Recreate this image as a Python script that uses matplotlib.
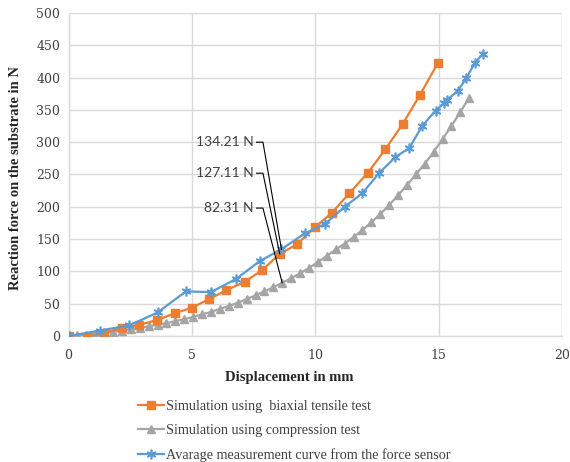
import matplotlib
matplotlib.use("Agg")
import matplotlib.pyplot as plt
from matplotlib.lines import Line2D

# Simulation using biaxial tensile test
biaxial_x = [0.0, 0.75, 1.45, 2.15, 2.85, 3.6, 4.3, 5.0, 5.7, 6.4, 7.15, 7.85,
             8.56, 9.26, 9.98, 10.68, 11.38, 12.14, 12.84, 13.54, 14.24, 14.96]
biaxial_y = [0, -2, 5, 12, 17, 25, 35, 44, 57, 71, 84, 102,
             127.11, 142, 168, 191, 221, 253, 289, 328, 373, 422]

# Simulation using compression test
compression_x = [0.0, 0.36, 0.72, 1.08, 1.44, 1.81, 2.17, 2.53, 2.89, 3.25,
                 3.61, 3.97, 4.33, 4.69, 5.05, 5.42, 5.78, 6.14, 6.5, 6.86,
                 7.22, 7.58, 7.94, 8.3, 8.66, 9.02, 9.38, 9.75, 10.11, 10.47,
                 10.83, 11.19, 11.55, 11.91, 12.27, 12.64, 13.0, 13.36, 13.72,
                 14.08, 14.44, 14.8, 15.16, 15.52, 15.88, 16.24]
compression_y = [0, 1, 2, 3.5, 5, 6.5, 8.5, 10.5, 12.5, 15,
                 17.5, 20, 23, 26, 29.5, 33.5, 37.5, 42, 46.5, 51.5,
                 57, 63, 69, 75.5, 82.31, 89.5, 97, 105.5, 114.5, 124,
                 134, 143, 153, 164, 176, 189, 203, 218, 234,
                 250, 267, 285, 305, 325, 347, 369]

# Average measurement curve from the force sensor
sensor_x = [0.0, 1.28, 2.47, 3.61, 4.76, 5.77, 6.78, 7.75, 8.63, 9.58, 10.38,
            11.19, 11.91, 12.58, 13.25, 13.81, 14.33, 14.88, 15.2, 15.33,
            15.79, 16.12, 16.47, 16.8]
sensor_y = [0, 8.5, 16.5, 36.5, 69, 68, 88, 116, 134.21, 159, 173,
            200, 221, 252, 277, 291, 325, 349, 360, 365,
            380, 399, 423, 437]

x_ticks = [0, 5, 10, 15, 20]
y_ticks = [0, 50, 100, 150, 200, 250, 300, 350, 400, 450, 500]

labels = ["Simulation using  biaxial tensile test",
          "Simulation using compression test",
          "Avarage measurement curve from the force sensor"]

ORANGE = "#ED7D31"
GRAY = "#A5A5A5"
BLUE = "#5B9BD5"
GRID = "#D9D9D9"
TEXT = "#404040"

plt.rcParams["font.family"] = ["DejaVu Serif"]
LABEL_FONT = ["Liberation Serif", "DejaVu Serif"]

fig = plt.figure(figsize=(5.70, 4.62), dpi=100)
ax = fig.add_axes([0.1202, 0.2727, 0.8658, 0.6992])

ax.plot(compression_x, compression_y, color=GRAY, lw=1.6, marker="^",
        markersize=5.5, zorder=3)
ax.plot(biaxial_x, biaxial_y, color=ORANGE, lw=1.6, marker="s",
        markersize=5.5, zorder=4)
ax.plot(sensor_x, sensor_y, color=BLUE, lw=1.6, marker=(6, 2, 0),
        markersize=7, markeredgewidth=1.2, zorder=5)

ax.set_xlim(0, 20)
ax.set_ylim(0, 500)
ax.set_xticks(x_ticks)
ax.set_yticks(y_ticks)
ax.grid(True, color=GRID, lw=1.0, zorder=0)
ax.set_axisbelow(True)
for side in ["top", "right"]:
    ax.spines[side].set_visible(False)
for side in ["left", "bottom"]:
    ax.spines[side].set_color(GRID)
    ax.spines[side].set_linewidth(1.0)
ax.tick_params(length=0, labelsize=9, colors=TEXT, pad=6)
ax.tick_params(axis="x", pad=9)

ax.set_xlabel("Displacement in mm", fontsize=10.5, fontweight="bold",
              family=LABEL_FONT, color="#262626")
ax.xaxis.set_label_coords(0.448, -0.108)
ax.set_ylabel("Reaction force on the substrate in N", fontsize=10.5,
              fontweight="bold", family=LABEL_FONT, color="#262626")
ax.yaxis.set_label_coords(-0.094, 0.49)

# Value callouts with leader lines
callouts = [
    ("134.21 N", 300, sensor_x[8], sensor_y[8]),
    ("127.11 N", 252, biaxial_x[12], biaxial_y[12]),
    ("82.31 N", 198, compression_x[24], compression_y[24]),
]
for text, ty, px, py in callouts:
    ax.text(7.5, ty, text, ha="right", va="center", fontsize=10,
            family=["Lato", "DejaVu Sans"], color=TEXT, zorder=6)
    ax.plot([7.62, 7.88, px], [ty, ty, py], color="black", lw=0.8,
            zorder=6)

handles = [
    Line2D([], [], color=ORANGE, lw=1.6, marker="s", markersize=5.5),
    Line2D([], [], color=GRAY, lw=1.6, marker="^", markersize=5.5),
    Line2D([], [], color=BLUE, lw=1.6, marker=(6, 2, 0), markersize=7,
           markeredgewidth=1.2),
]
fig.legend(handles, labels, loc="upper left",
           bbox_to_anchor=(0.242, 0.134), frameon=False,
           prop={"family": LABEL_FONT, "size": 10.2},
           handlelength=1.85, handletextpad=0.1,
           labelspacing=0.78, borderpad=0, borderaxespad=0,
           labelcolor=TEXT)

fig.savefig("out.png", dpi=100)
